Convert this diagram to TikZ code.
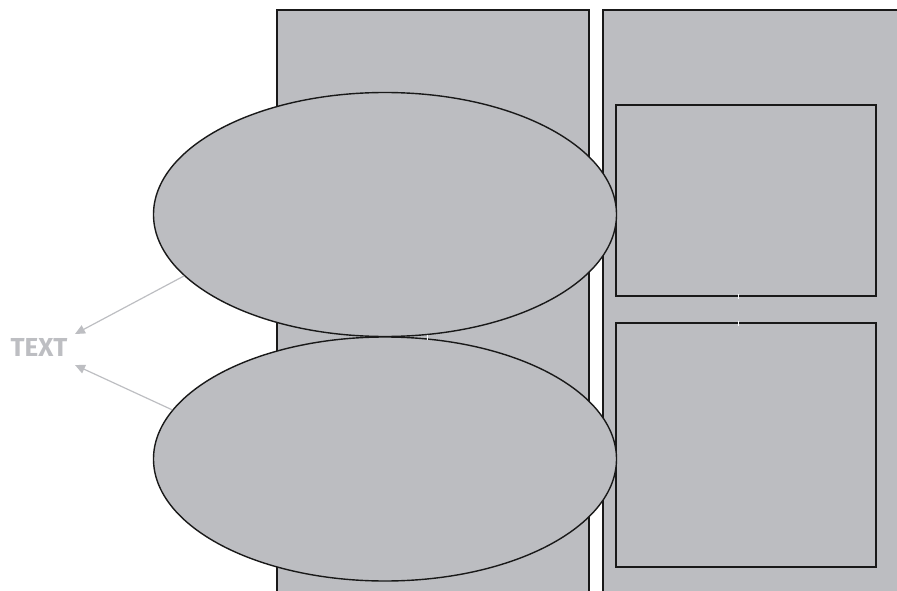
\documentclass[tikz,border=0pt]{standalone}
\usepackage{fontspec}
\setmainfont{Fira Sans}
\usetikzlibrary{arrows.meta,shapes.geometric}
\definecolor{panel}{HTML}{BCBDC1}
\definecolor{lbl}{HTML}{BDBEC2}
\begin{document}
\begin{tikzpicture}[x=1pt,y=-1pt,
  box/.style={draw=black!90,line width=1.6pt,fill=panel},
  oval/.style={ellipse,draw=black!90,line width=1.4pt,fill=panel,inner sep=0pt,minimum width=463pt,minimum height=244pt},
  pointer/.style={draw=lbl,line width=1.2pt,-{Triangle[length=10pt,width=9pt]}},
  gap/.style={draw=white!90!panel,line width=1pt}]
\useasboundingbox (0,0) rectangle (897,591);
\path[box] (277,10) rectangle (589,600);
\path[box] (603,10) rectangle (910,600);
\path[box] (616,105) rectangle (876,296);
\path[box] (616,323) rectangle (876,567);
\node[oval] (top) at (385,214.5) {};
\node[oval] (bot) at (385,459) {};
\node[text=lbl,font=\bfseries\fontsize{26}{28}\selectfont] (txt) at (39,347) {TEXT};
\coordinate (e1) at (75,334);
\coordinate (e2) at (75,365);
\draw[pointer] (top.197.5) -- (e1);
\draw[pointer] (bot.167.9) -- (e2);
\draw[gap] (427,334.5) -- (427,339.5);
\draw[gap] (738,293.5) -- (738,298.5);
\draw[gap] (738,320.5) -- (738,325.5);
\end{tikzpicture}
\end{document}
